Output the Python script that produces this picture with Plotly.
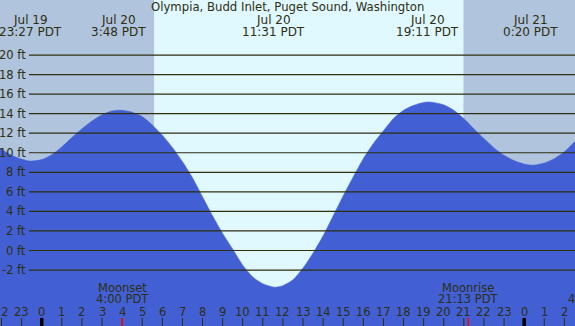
import plotly.graph_objects as go

# ---- data (hours relative to Jul 20 00:00 PDT, heights in ft) ----
hours = [-3, -2.5, -2, -1.5, -1, -0.6, 0, 0.5, 1, 1.5, 2, 2.5, 3, 3.5, 3.87,
         4, 4.5, 5, 5.5, 6, 6.5, 7, 7.5, 8, 8.5, 9, 9.5, 10, 10.5, 11, 11.5, 11.62,
         12, 12.5, 13, 13.5, 14, 14.5, 15, 15.5, 16, 16.5, 17, 17.5, 18, 18.5, 19, 19.25,
         19.5, 20, 20.5, 21, 21.5, 22, 22.5, 23, 23.5, 24, 24.45, 25, 25.5, 26, 26.5, 27]
heights = [11.9, 11.1, 10.35, 9.75, 9.35, 9.15, 9.3, 9.8, 10.6, 11.55, 12.45, 13.25, 13.9, 14.28, 14.36,
           14.34, 14.15, 13.7, 12.85, 11.8, 10.55, 9.1, 7.45, 5.5, 3.55, 1.75, 0.15, -1.5, -2.7, -3.4, -3.73, -3.75,
           -3.6, -3.0, -1.8, -0.25, 1.5, 3.55, 5.6, 7.55, 9.4, 10.95, 12.25, 13.5, 14.35, 14.85, 15.15, 15.2,
           15.15, 14.9, 14.35, 13.5, 12.45, 11.45, 10.5, 9.75, 9.2, 8.85, 8.73, 8.95, 9.4, 10.1, 11.1, 12.2]

extreme_times = [-0.55, 3.8, 11.517, 19.183, 24.333]
extreme_dates = ["Jul 19", "Jul 20", "Jul 20", "Jul 20", "Jul 21"]
extreme_clock = ["23:27 PDT", "3:48 PDT", "11:31 PDT", "19:11 PDT", "0:20 PDT"]

moon_times = [4.0, 21.217]
moon_names = ["Moonset", "Moonrise"]
moon_clock = ["4:00 PDT", "21:13 PDT"]
next_moon_time = 26.1
next_moon_clock = "4:42 PDT"

sunrise = 5.59
sunset = 20.98

depth_ticks = list(range(-2, 21, 2))
hour_ticks = list(range(-2, 27))

title = "Olympia, Budd Inlet, Puget Sound, Washington"

# ---- styling ----
W, H = 575, 326
X_RANGE = [-2.075, 26.53]
Y_RANGE = [-7.725, 25.63]
NIGHT = "#b0c4de"
DAY = "#e0f8ff"
WATER = "#4260d3"
INK = "#2e2e10"
FONT = "DejaVu Sans"


def py(px):
    return 1 - px / H


fig = go.Figure()
fig.add_trace(go.Scatter(x=hours, y=[Y_RANGE[0] - 1] * len(hours), mode="lines",
                         line=dict(width=0), hoverinfo="skip", showlegend=False))
fig.add_trace(go.Scatter(x=hours, y=heights, mode="lines", fill="tonexty",
                         fillcolor=WATER, line=dict(color=WATER, width=0.5, shape="spline", smoothing=0.7),
                         hoverinfo="skip", showlegend=False))

shapes = []
# night shading
shapes.append(dict(type="rect", xref="x", yref="paper", x0=X_RANGE[0] - 5, x1=sunrise, y0=0, y1=1,
                   fillcolor=NIGHT, line=dict(width=0), layer="below"))
shapes.append(dict(type="rect", xref="x", yref="paper", x0=sunset, x1=X_RANGE[1] + 5, y0=0, y1=1,
                   fillcolor=NIGHT, line=dict(width=0), layer="below"))
# horizontal depth lines
for d in depth_ticks:
    shapes.append(dict(type="line", xref="paper", yref="y", x0=29 / W, x1=1, y0=d, y1=d,
                       line=dict(color=INK, width=1.2), layer="above"))
# hour ticks
for h in hour_ticks:
    midnight = (h % 24 == 0)
    shapes.append(dict(type="line", xref="x", yref="paper", x0=h, x1=h, y0=0, y1=8 / H,
                       line=dict(color="#000000" if midnight else INK, width=3.5 if midnight else 1),
                       layer="above"))
# moon ticks
for m in moon_times:
    shapes.append(dict(type="line", xref="x", yref="paper", x0=m, x1=m, y0=0, y1=8 / H,
                       line=dict(color="#ff0000", width=1.5), layer="above"))

ann = []
ann.append(dict(text=title, xref="paper", yref="paper", x=287 / W, y=py(7.5), showarrow=False,
                xanchor="center", yanchor="middle", font=dict(family=FONT, size=11.7, color=INK)))
for t, dte, clk in zip(extreme_times, extreme_dates, extreme_clock):
    ann.append(dict(text=dte, xref="x", yref="paper", x=t, y=py(20), showarrow=False,
                    xanchor="center", yanchor="middle", font=dict(family=FONT, size=12, color=INK)))
    ann.append(dict(text=clk, xref="x", yref="paper", x=t, y=py(31.5), showarrow=False,
                    xanchor="center", yanchor="middle", font=dict(family=FONT, size=12, color=INK)))
for d in depth_ticks:
    ann.append(dict(text=f"{d} ft", xref="paper", yref="y", x=27.5 / W, y=d, showarrow=False,
                    xanchor="right", yanchor="middle", font=dict(family=FONT, size=11.5, color=INK)))
for h in hour_ticks:
    ann.append(dict(text=str(h % 24), xref="x", yref="paper", x=h, y=py(312), showarrow=False,
                    xanchor="center", yanchor="middle", font=dict(family=FONT, size=11.5, color=INK)))
for t, nm, clk in zip(moon_times, moon_names, moon_clock):
    ann.append(dict(text=nm, xref="x", yref="paper", x=t, y=py(287.5), showarrow=False,
                    xanchor="center", yanchor="middle", font=dict(family=FONT, size=11.5, color=INK)))
    ann.append(dict(text=clk, xref="x", yref="paper", x=t, y=py(298.5), showarrow=False,
                    xanchor="center", yanchor="middle", font=dict(family=FONT, size=11.5, color=INK)))
ann.append(dict(text=next_moon_clock, xref="x", yref="paper", x=next_moon_time, y=py(298.5),
                showarrow=False, xanchor="left", yanchor="middle",
                font=dict(family=FONT, size=11.5, color=INK)))

fig.update_layout(
    width=W, height=H, margin=dict(l=0, r=0, t=0, b=0),
    paper_bgcolor=DAY, plot_bgcolor=DAY,
    xaxis=dict(range=X_RANGE, visible=False, fixedrange=True),
    yaxis=dict(range=Y_RANGE, visible=False, fixedrange=True),
    shapes=shapes, annotations=ann, showlegend=False,
)
fig.write_html("out.html", config={"displayModeBar": False},
               post_script="document.body.style.margin='0';document.body.style.overflow='hidden';")
